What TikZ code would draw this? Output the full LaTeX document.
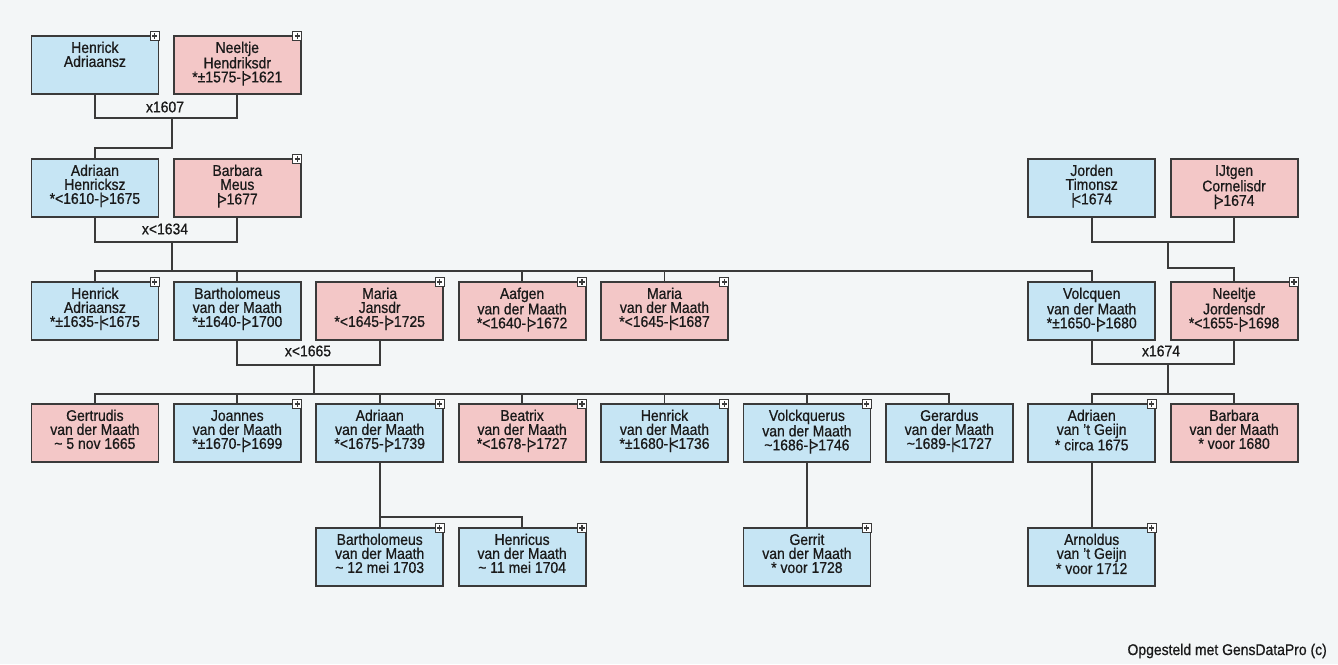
\documentclass[tikz,border=0pt]{standalone}
\usepackage{fontspec}
\setmainfont[FakeStretch=0.9, FakeBold=0.7]{Liberation Sans}
\definecolor{bgc}{HTML}{F3F6F7}
\definecolor{mblue}{HTML}{C6E5F4}
\definecolor{wpink}{HTML}{F3C7C7}
\definecolor{linec}{HTML}{3A3A3A}
\definecolor{txtc}{HTML}{1A1A1A}
\newcommand{\mydeath}{\kern0.03em|\kern-0.13em>}
\newcommand{\myburial}{\kern0.03em|\kern-0.13em<}
\newcommand{\tld}{\char126\relax}
\newcommand{\bth}{*}
\newcommand{\ptxt}[1]{\parbox[t][58pt][t]{127pt}{\centering\rule{0pt}{17pt}#1}}
\newcommand{\addplus}[1]{\node[plusbox, xshift=-4.5pt, yshift=-1pt] (#1p) at (#1.north east) {};}
\tikzset{
  pers/.style={draw=linec, line width=1.8pt, minimum width=127pt, minimum height=58pt,
    inner sep=0pt, anchor=north west, text=txtc},
  man/.style={pers, fill=mblue},
  woman/.style={pers, fill=wpink},
  conn/.style={draw=linec, line width=1.8pt},
  mlabel/.style={text=txtc, inner sep=0pt},
  plusbox/.style={draw=linec, fill=white, line width=1pt, minimum size=9pt, inner sep=0pt,
    path picture={\draw[line width=1.3pt, linec]
      ([xshift=-2.6pt]path picture bounding box.center) -- ([xshift=2.6pt]path picture bounding box.center)
      ([yshift=-2.6pt]path picture bounding box.center) -- ([yshift=2.6pt]path picture bounding box.center);}}
}
\begin{document}
\begin{tikzpicture}[x=1pt, y=-1pt, font=\fontsize{15.5}{14}\selectfont]
\fill[bgc] (0,0) rectangle (1338,664);
\useasboundingbox (0,0) rectangle (1338,664);

% connector junctions
\coordinate (m1) at (172,118);
\coordinate (k1) at (172,148);
\coordinate (m2) at (172,242);
\coordinate (s2) at (172,271);
\coordinate (m3) at (1168,242);
\coordinate (k3) at (1168,268);
\coordinate (m4) at (314,365);
\coordinate (s4) at (314,394);
\coordinate (m5) at (1168,364);
\coordinate (s5) at (1168,394);
\coordinate (s6) at (378.8,517);

% row 1
\node[man]   (a1) at (30.5,35)  {\ptxt{Henrick\\Adriaansz}};
\node[woman] (a2) at (172.9,35) {\ptxt{Neeltje\\Hendriksdr\\\bth±1575-\mydeath1621}};
% row 2
\node[man]   (b1) at (30.5,158)   {\ptxt{Adriaan\\Henricksz\\\bth<1610-\mydeath1675}};
\node[woman] (b2) at (172.9,158)  {\ptxt{Barbara\\Meus\\\mydeath1677}};
\node[man]   (b3) at (1027.3,158) {\ptxt{Jorden\\Timonsz\\\myburial1674}};
\node[woman] (b4) at (1169.7,158) {\ptxt{IJtgen\\Cornelisdr\\\mydeath1674}};
% row 3
\node[man]   (c1) at (30.5,281)   {\ptxt{Henrick\\Adriaansz\\\bth±1635-\myburial1675}};
\node[man]   (c2) at (172.9,281)  {\ptxt{Bartholomeus\\van der Maath\\\bth±1640-\mydeath1700}};
\node[woman] (c3) at (315.3,281)  {\ptxt{Maria\\Jansdr\\\bth<1645-\mydeath1725}};
\node[woman] (c4) at (457.7,281)  {\ptxt{Aafgen\\van der Maath\\\bth<1640-\mydeath1672}};
\node[woman] (c5) at (600.1,281)  {\ptxt{Maria\\van der Maath\\\bth<1645-\myburial1687}};
\node[man]   (c6) at (1027.3,281) {\ptxt{Volcquen\\van der Maath\\\bth±1650-\mydeath1680}};
\node[woman] (c7) at (1169.7,281) {\ptxt{Neeltje\\Jordensdr\\\bth<1655-\mydeath1698}};
% row 4
\node[woman] (d1) at (30.5,403)   {\ptxt{Gertrudis\\van der Maath\\\tld{} 5 nov 1665}};
\node[man]   (d2) at (172.9,403)  {\ptxt{Joannes\\van der Maath\\\bth±1670-\mydeath1699}};
\node[man]   (d3) at (315.3,403)  {\ptxt{Adriaan\\van der Maath\\\bth<1675-\mydeath1739}};
\node[woman] (d4) at (457.7,403)  {\ptxt{Beatrix\\van der Maath\\\bth<1678-\mydeath1727}};
\node[man]   (d5) at (600.1,403)  {\ptxt{Henrick\\van der Maath\\\bth±1680-\myburial1736}};
\node[man]   (d6) at (742.5,403)  {\ptxt{Volckquerus\\van der Maath\\\tld{}1686-\mydeath1746}};
\node[man]   (d7) at (884.9,403)  {\ptxt{Gerardus\\van der Maath\\\tld{}1689-\myburial1727}};
\node[man]   (d8) at (1027.3,403) {\ptxt{Adriaen\\van 't Geijn\\\bth{} circa 1675}};
\node[woman] (d9) at (1169.7,403) {\ptxt{Barbara\\van der Maath\\\bth{} voor 1680}};
% row 5
\node[man] (e1) at (315.3,527)  {\ptxt{Bartholomeus\\van der Maath\\\tld{} 12 mei 1703}};
\node[man] (e2) at (457.7,527)  {\ptxt{Henricus\\van der Maath\\\tld{} 11 mei 1704}};
\node[man] (e3) at (742.5,527)  {\ptxt{Gerrit\\van der Maath\\\bth{} voor 1728}};
\node[man] (e4) at (1027.3,527) {\ptxt{Arnoldus\\van 't Geijn\\\bth{} voor 1712}};

% plus markers
\addplus{a1}\addplus{a2}\addplus{b2}
\addplus{c1}\addplus{c3}\addplus{c4}\addplus{c5}\addplus{c7}
\addplus{d2}\addplus{d3}\addplus{d4}\addplus{d5}\addplus{d6}\addplus{d8}
\addplus{e1}\addplus{e2}\addplus{e3}\addplus{e4}

% connectors
\draw[conn] (a1.south) |- (m1) -| (a2.south);
\draw[conn] (m1) -- (k1) -| (b1.north);
\draw[conn] (b1.south) |- (m2) -| (b2.south);
\draw[conn] (m2) -- (s2);
\draw[conn] (c1.north) |- (c6.north |- s2) -- (c6.north);
\draw[conn] (c2.north) -- (c2.north |- s2);
\draw[conn] (c4.north) -- (c4.north |- s2);
\draw[conn] (c5.north) -- (c5.north |- s2);
\draw[conn] (b3.south) |- (m3) -| (b4.south);
\draw[conn] (m3) -- (k3) -| (c7.north);
\draw[conn] (c2.south) |- (m4) -| (c3.south);
\draw[conn] (m4) -- (s4);
\draw[conn] (d1.north) |- (d7.north |- s4) -- (d7.north);
\draw[conn] (d2.north) -- (d2.north |- s4);
\draw[conn] (d3.north) -- (d3.north |- s4);
\draw[conn] (d4.north) -- (d4.north |- s4);
\draw[conn] (d5.north) -- (d5.north |- s4);
\draw[conn] (d6.north) -- (d6.north |- s4);
\draw[conn] (c6.south) |- (m5) -| (c7.south);
\draw[conn] (m5) -- (s5);
\draw[conn] (d8.north) |- (d9.north |- s5) -- (d9.north);
\draw[conn] (d3.south) -- (e1.north);
\draw[conn] (s6) -| (e2.north);
\draw[conn] (d6.south) -- (e3.north);
\draw[conn] (d8.south) -- (e4.north);

% marriage labels
\node[mlabel] (l1) at (165,107) {x1607};
\node[mlabel] (l2) at (165,229) {x<1634};
\node[mlabel] (l3) at (308,351) {x<1665};
\node[mlabel] (l4) at (1161,351) {x1674};

\node[mlabel, anchor=east] (credit) at (1327,651) {Opgesteld met GensDataPro (c)};
\end{tikzpicture}
\end{document}
